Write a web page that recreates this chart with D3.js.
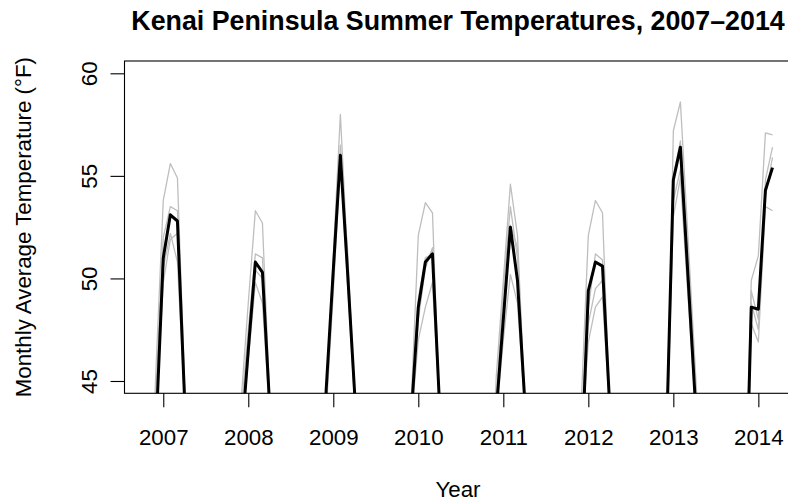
<!DOCTYPE html>
<html>
<head>
<meta charset="utf-8">
<script src="https://cdn.jsdelivr.net/npm/d3@7"></script>
<style>
  html, body { margin: 0; padding: 0; background: #ffffff; }
  svg { display: block; }
</style>
</head>
<body>
<svg id="chart" width="788" height="501"></svg>
<script>
// ---------------- DATA ----------------
const years = [2007, 2008, 2009, 2010, 2011, 2012, 2013, 2014];
// months shown for each summer (month numbers); 2014 ends in August
const monthsFull = [4, 5, 6, 7, 8, 9, 10];
const months2014 = [4, 5, 6, 7, 8];
const yTicks = [45, 50, 55, 60];
const xTickLabels = ["2007", "2008", "2009", "2010", "2011", "2012", "2013", "2014"];

// Monthly average temperature (°F) per station, one array per year
const station1 = [
  [37.0, 45.8, 53.8, 55.6, 54.9, 45.0, 38.0],
  [36.0, 44.1, 48.8, 53.3, 52.7, 44.3, 38.0],
  [36.0, 44.0, 51.1, 58.0, 51.1, 44.1, 37.0],
  [36.0, 43.9, 52.1, 53.7, 53.2, 43.6, 37.0],
  [36.0, 45.2, 49.9, 54.6, 52.1, 44.2, 37.0],
  [36.0, 43.9, 52.1, 53.8, 53.2, 43.8, 37.0],
  [36.0, 38.9, 57.2, 58.6, 52.4, 46.2, 40.0],
  [37.0, 49.9, 51.1, 57.1, 57.0]
];
const station2 = [
  [37.0, 44.8, 52.0, 53.5, 53.3, 44.6, 38.0],
  [36.0, 43.5, 47.5, 51.2, 51.0, 44.0, 37.0],
  [36.0, 43.8, 50.0, 56.5, 50.5, 44.2, 37.0],
  [36.0, 43.5, 48.0, 50.5, 51.5, 43.9, 37.0],
  [36.0, 44.0, 49.5, 53.5, 51.0, 44.1, 37.0],
  [36.0, 43.0, 48.5, 51.2, 50.9, 43.9, 37.0],
  [36.0, 42.5, 55.0, 56.7, 51.5, 44.8, 38.0],
  [36.0, 49.4, 48.0, 54.8, 56.4]
];
const station3 = [
  [36.0, 43.2, 50.5, 52.2, 50.8, 44.0, 37.0],
  [36.0, 43.0, 46.8, 50.4, 50.0, 43.8, 37.0],
  [36.0, 43.5, 49.3, 55.8, 49.8, 44.0, 37.0],
  [36.0, 43.6, 49.0, 51.0, 51.2, 43.9, 37.0],
  [36.0, 43.8, 48.5, 52.6, 51.5, 44.0, 37.0],
  [36.0, 42.5, 47.8, 49.5, 49.9, 43.7, 37.0],
  [36.0, 42.0, 53.8, 55.3, 50.0, 44.5, 38.0],
  [35.0, 47.8, 46.9, 53.5, 53.3]
];
const station4 = [
  [36.0, 43.5, 49.8, 51.9, 52.2, 44.0, 37.0],
  [36.0, 42.5, 46.0, 49.8, 48.8, 43.5, 37.0],
  [36.0, 44.2, 50.8, 55.5, 51.5, 44.3, 37.0],
  [36.0, 43.0, 47.0, 48.6, 49.8, 43.7, 37.0],
  [36.0, 43.2, 47.0, 50.2, 48.8, 43.8, 37.0],
  [36.0, 42.0, 46.9, 48.6, 49.1, 43.6, 37.0],
  [36.0, 41.5, 53.0, 54.9, 49.5, 44.3, 38.0],
  [35.5, 48.8, 47.5, 54.0, 55.9]
];
const regionMean = [
  [36.0, 42.8, 51.0, 53.1, 52.8, 44.2, 37.0],
  [36.0, 42.0, 46.5, 50.8, 50.3, 43.9, 37.0],
  [36.0, 44.6, 50.4, 56.0, 50.4, 44.5, 37.0],
  [36.0, 43.3, 48.6, 50.8, 51.2, 43.8, 37.0],
  [36.0, 43.5, 48.0, 52.5, 49.9, 44.2, 37.0],
  [36.0, 40.5, 49.4, 50.8, 50.6, 43.9, 37.0],
  [36.0, 41.8, 54.8, 56.4, 50.5, 44.6, 38.0],
  [35.4, 48.6, 48.5, 54.3, 55.4]
];

const graySeries = [station1, station2, station3, station4];

// ---------------- LAYOUT ----------------
const W = 788, H = 501;
const plotL = 124.5, plotR = 791.5, plotT = 61, plotB = 393.3;
const font = "'Liberation Sans', Arial, Helvetica, sans-serif";

const svg = d3.select("#chart");
svg.append("rect").attr("width", W).attr("height", H).attr("fill", "#ffffff");

const x = d3.scaleLinear().domain([2006.544, 2014.39]).range([plotL, plotR]);
const y = d3.scaleLinear().domain([44.4, 60.6]).range([plotB, plotT]);

svg.append("defs").append("clipPath").attr("id", "plotclip")
  .append("rect")
  .attr("x", plotL).attr("y", plotT)
  .attr("width", plotR - plotL).attr("height", plotB - plotT);

function toPoints(series) {
  return years.map((yr, i) => {
    const ms = yr === 2014 ? months2014 : monthsFull;
    return ms.map((m, j) => ({ x: yr + (m - 6) / 12, v: series[i][j] }));
  });
}

const line = d3.line().x(d => x(d.x)).y(d => y(d.v));
const gLines = svg.append("g").attr("clip-path", "url(#plotclip)");

graySeries.forEach(s => {
  toPoints(s).forEach(seg => {
    gLines.append("path").attr("d", line(seg))
      .attr("fill", "none").attr("stroke", "#BEBEBE")
      .attr("stroke-width", 1.3).attr("stroke-linejoin", "round");
  });
});
toPoints(regionMean).forEach(seg => {
  gLines.append("path").attr("d", line(seg))
    .attr("fill", "none").attr("stroke", "#000000")
    .attr("stroke-width", 3).attr("stroke-linejoin", "round");
});

// Box
svg.append("rect")
  .attr("x", plotL).attr("y", plotT)
  .attr("width", plotR - plotL).attr("height", plotB - plotT)
  .attr("fill", "none").attr("stroke", "#000").attr("stroke-width", 1.1);

// Y axis
const yAxis = svg.append("g").attr("transform", `translate(${plotL},0)`)
  .call(d3.axisLeft(y).tickValues(yTicks).tickSize(14).tickFormat(d3.format("d")));
yAxis.select(".domain").remove();
yAxis.selectAll(".tick line").attr("stroke", "#000").attr("stroke-width", 1.1);
yAxis.selectAll(".tick text")
  .attr("x", null).attr("dy", null)
  .attr("transform", "translate(-28,0) rotate(-90)")
  .attr("text-anchor", "middle")
  .attr("fill", "#000")
  .style("font-family", font).style("font-size", "22.3px");

// X axis
const xAxis = svg.append("g").attr("transform", `translate(0,${plotB})`)
  .call(d3.axisBottom(x).tickValues(years).tickSize(14)
    .tickFormat((d, i) => xTickLabels[i]));
xAxis.select(".domain").remove();
xAxis.selectAll(".tick line").attr("stroke", "#000").attr("stroke-width", 1.1);
xAxis.selectAll(".tick text")
  .attr("y", 51.7).attr("dy", null)
  .attr("fill", "#000")
  .style("font-family", font).style("font-size", "22.3px");

// Titles
const cx = (plotL + plotR) / 2;
svg.append("text").attr("x", cx).attr("y", 30)
  .attr("text-anchor", "middle")
  .style("font-family", font).style("font-size", "26.8px").style("font-weight", "bold")
  .text("Kenai Peninsula Summer Temperatures, 2007\u20132014");

svg.append("text").attr("x", cx).attr("y", 497)
  .attr("text-anchor", "middle")
  .style("font-family", font).style("font-size", "22.3px")
  .text("Year");

svg.append("text")
  .attr("transform", `translate(31,${(plotT + plotB) / 2}) rotate(-90)`)
  .attr("text-anchor", "middle")
  .style("font-family", font).style("font-size", "22.3px")
  .text("Monthly Average Temperature (\u00B0F)");
</script>
</body>
</html>
